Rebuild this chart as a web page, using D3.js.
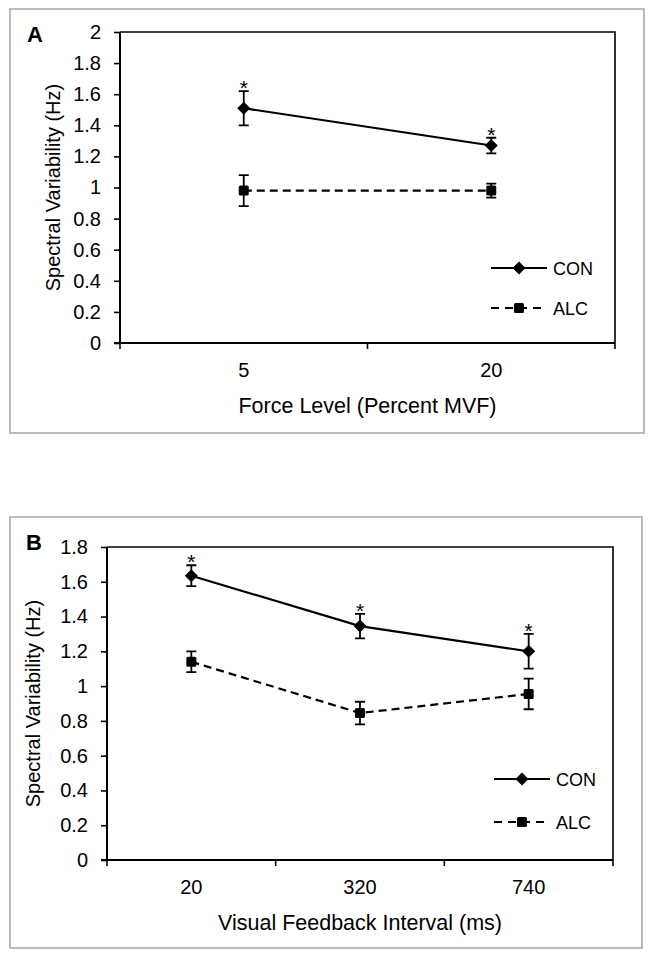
<!DOCTYPE html>
<html><head><meta charset="utf-8">
<script src="https://cdn.jsdelivr.net/npm/d3@7"></script>
<style>body{margin:0;background:#fff}svg{display:block}</style>
</head><body>
<script>
// Panel A data
const forceLevels = ["5", "20"];
const conA = [1.51, 1.27];
const conAErr = [0.11, 0.05];
const alcA = [0.98, 0.98];
const alcAErr = [0.10, 0.045];
const sigA = [true, true];
const yTicksA = [0, 0.2, 0.4, 0.6, 0.8, 1, 1.2, 1.4, 1.6, 1.8, 2];

// Panel B data
const intervals = ["20", "320", "740"];
const conB = [1.635, 1.345, 1.2];
const conBErr = [0.06, 0.07, 0.1];
const alcB = [1.14, 0.845, 0.955];
const alcBErr = [0.06, 0.065, 0.088];
const sigB = [true, true, true];
const yTicksB = [0, 0.2, 0.4, 0.6, 0.8, 1, 1.2, 1.4, 1.6, 1.8];

const seriesNames = ["CON", "ALC"];

const W = 654, H = 959;
const svg = d3.select("body").append("svg").attr("width", W).attr("height", H);
const FONT = "'Liberation Sans', Arial, sans-serif";

function panel(cfg) {
  // outer frame
  svg.append("rect").attr("x", cfg.frame[0]).attr("y", cfg.frame[1])
    .attr("width", cfg.frame[2] - cfg.frame[0]).attr("height", cfg.frame[3] - cfg.frame[1])
    .attr("fill", "none").attr("stroke", "#a6a6a6").attr("stroke-width", 1.5);

  const x = d3.scaleBand().domain(cfg.cats).range([cfg.left, cfg.right]).padding(0);
  const y = d3.scaleLinear().domain([0, cfg.ymax]).range([cfg.bottom, cfg.top]);
  const g = svg.append("g");

  // plot area top + right border
  g.append("path").attr("d", `M${cfg.left},${cfg.top}H${cfg.right}V${cfg.bottom}`)
    .attr("fill", "none").attr("stroke", "#000").attr("stroke-width", 1.6);

  // y axis
  const yAxis = d3.axisLeft(y).tickValues(cfg.yTicks).tickSize(6).tickPadding(13)
    .tickFormat(d => String(+d.toFixed(1)));
  const ya = g.append("g").attr("transform", `translate(${cfg.left},0)`).call(yAxis);
  ya.select(".domain").attr("stroke-width", 2).attr("d", `M0,${cfg.bottom}V${cfg.top}`);
  ya.selectAll(".tick line").attr("stroke-width", 1.6);
  ya.selectAll("text").attr("font-family", FONT).attr("font-size", 20).attr("fill", "#000");

  // x axis: ticks at band boundaries
  const bounds = cfg.cats.map(c => x(c)).concat([cfg.right]);
  g.append("line").attr("x1", cfg.left - 6).attr("x2", cfg.right).attr("y1", cfg.bottom).attr("y2", cfg.bottom)
    .attr("stroke", "#000").attr("stroke-width", 2);
  g.selectAll(".xt").data(bounds).join("line")
    .attr("x1", d => d).attr("x2", d => d).attr("y1", cfg.bottom).attr("y2", cfg.bottom + 6)
    .attr("stroke", "#000").attr("stroke-width", 1.6);
  g.selectAll(".xl").data(cfg.cats).join("text")
    .attr("x", d => x(d) + x.bandwidth() / 2).attr("y", cfg.bottom + 34)
    .attr("text-anchor", "middle").attr("font-family", FONT).attr("font-size", 20).text(d => d);

  // axis titles
  g.append("text").attr("x", (cfg.left + cfg.right) / 2).attr("y", cfg.bottom + 70)
    .attr("text-anchor", "middle").attr("font-family", FONT).attr("font-size", 21.5).text(cfg.xTitle);
  g.append("text").attr("transform", `translate(${cfg.yTitleX},${(cfg.top + cfg.bottom) / 2}) rotate(-90)`)
    .attr("text-anchor", "middle").attr("font-family", FONT).attr("font-size", 20).text("Spectral  Variability (Hz)");

  // panel letter
  g.append("text").attr("x", cfg.letterPos[0]).attr("y", cfg.letterPos[1])
    .attr("font-family", FONT).attr("font-size", 22).attr("font-weight", "bold").text(cfg.letter);

  const cx = c => x(c) + x.bandwidth() / 2;
  const line = d3.line().x(d => cx(d.c)).y(d => y(d.v));

  function series(vals, errs, dashed, marker) {
    const data = cfg.cats.map((c, i) => ({c, v: vals[i], e: errs[i]}));
    g.append("path").datum(data).attr("d", line).attr("fill", "none").attr("stroke", "#000")
      .attr("stroke-width", 2.2).attr("stroke-dasharray", dashed ? "8,5" : null);
    data.forEach(d => {
      const X = cx(d.c), y1 = y(d.v + d.e), y2 = y(d.v - d.e);
      g.append("path").attr("d", `M${X},${y1}V${y2}M${X - 5},${y1}H${X + 5}M${X - 5},${y2}H${X + 5}`)
        .attr("stroke", "#000").attr("stroke-width", 1.8).attr("fill", "none");
      drawMarker(g, X, y(d.v), marker);
    });
    return data;
  }
  const conData = series(cfg.con, cfg.conErr, false, "diamond");
  series(cfg.alc, cfg.alcErr, true, "square");

  // significance asterisks
  conData.forEach((d, i) => {
    if (cfg.sig[i]) g.append("text").attr("x", cx(d.c)).attr("y", y(d.v + d.e) + 4)
      .attr("text-anchor", "middle").attr("font-family", FONT).attr("font-size", 21).text("*");
  });

  // legend
  cfg.legend.forEach((L, i) => {
    const dashed = i === 1;
    g.append("line").attr("x1", L[0]).attr("x2", L[0] + 56).attr("y1", L[1]).attr("y2", L[1])
      .attr("stroke", "#000").attr("stroke-width", 2).attr("stroke-dasharray", dashed ? "8,6" : null);
    drawMarker(g, L[0] + 28, L[1], dashed ? "square" : "diamond");
    g.append("text").attr("x", L[0] + 62).attr("y", L[1] + 6.5).attr("font-family", FONT)
      .attr("font-size", 18).text(seriesNames[i]);
  });
}

function drawMarker(g, X, Y, type) {
  if (type === "diamond") {
    g.append("path").attr("d", `M${X},${Y - 6.5}L${X + 6.5},${Y}L${X},${Y + 6.5}L${X - 6.5},${Y}Z`).attr("fill", "#000");
  } else {
    g.append("rect").attr("x", X - 5).attr("y", Y - 5).attr("width", 10).attr("height", 10)
      .attr("rx", 1.5).attr("fill", "#000");
  }
}

panel({
  frame: [10, 9, 644, 433], left: 120, right: 615, top: 32, bottom: 343, ymax: 2,
  cats: forceLevels, yTicks: yTicksA, con: conA, conErr: conAErr, alc: alcA, alcErr: alcAErr, sig: sigA,
  xTitle: "Force Level (Percent MVF)", yTitleX: 60, letter: "A", letterPos: [27, 42],
  legend: [[491, 268], [491, 308]]
});
panel({
  frame: [10, 517, 642, 948], left: 107, right: 613, top: 547, bottom: 860, ymax: 1.8,
  cats: intervals, yTicks: yTicksB, con: conB, conErr: conBErr, alc: alcB, alcErr: alcBErr, sig: sigB,
  xTitle: "Visual Feedback Interval (ms)", yTitleX: 40, letter: "B", letterPos: [26, 550],
  legend: [[494, 779], [494, 822]]
});
</script>
</body></html>
